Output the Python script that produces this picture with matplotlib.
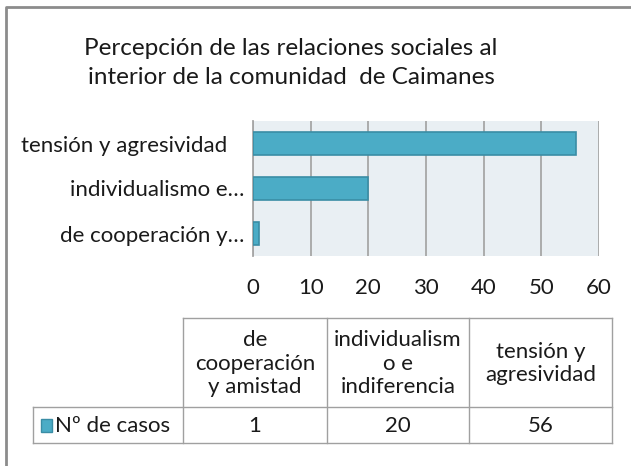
import matplotlib.pyplot as plt
from matplotlib.patches import Rectangle

# data
title = "Percepción de las relaciones sociales al\ninterior de la comunidad  de Caimanes"
categorias = ["de cooperación y…", "individualismo e…", "tensión y agresividad   "]
cabeceras = ["de\ncooperación\ny amistad", "individualism\no e\nindiferencia", "tensión y\nagresividad"]
serie = "Nº de casos"
casos = [1, 20, 56]
xticks = [0, 10, 20, 30, 40, 50, 60]

plt.rcParams['font.family'] = ['Lato', 'DejaVu Sans']
bar_col = '#4BACC6'
edge_col = '#3A8DA5'
grid_col = '#A6A6A6'
txt = '#1a1a1a'
fs = 16
W, H = 631, 466

fig = plt.figure(figsize=(W / 100, H / 100), dpi=100)

# overlay in pixel coords for frame, title and data table
bg = fig.add_axes([0, 0, 1, 1])
bg.set_xlim(0, W)
bg.set_ylim(H, 0)
bg.axis('off')
bg.plot([6, 6, W + 5], [H + 5, 7, 7], color='#8C8C8C', lw=2)
bg.text(291, 63, title, ha='center', va='center', fontsize=17.5, linespacing=1.45, color=txt)

# bar chart
ax = fig.add_axes([253 / W, 1 - 256 / H, 346 / W, 135 / H])
ax.set_facecolor('#E9EFF3')
ax.barh(range(len(casos)), casos, height=0.5, color=bar_col, edgecolor=edge_col, lw=1.2, zorder=3)
ax.set_xlim(0, 60)
ax.set_ylim(-0.5, 2.5)
ax.set_xticks(xticks)
ax.set_xticklabels([str(t) for t in xticks], fontsize=fs, color=txt)
ax.set_yticks(range(len(categorias)))
ax.set_yticklabels(categorias, fontsize=fs, color=txt)
ax.tick_params(length=0, axis='x', pad=16)
ax.tick_params(length=0, axis='y', pad=6)
ax.grid(axis='x', color=grid_col, lw=1.3, zorder=1)
for s in ['top', 'right', 'bottom']:
    ax.spines[s].set_visible(False)
ax.spines['left'].set_color(grid_col)
ax.spines['left'].set_linewidth(1.3)

# data table
cols = [183, 327, 469, 612]
x_leg = 33
y_top, y_mid, y_bot = 318, 407, 443
tc = '#A0A0A0'
bg.plot([cols[0], cols[-1]], [y_top, y_top], color=tc, lw=1)
bg.plot([x_leg, cols[-1]], [y_mid, y_mid], color=tc, lw=1)
bg.plot([x_leg, cols[-1]], [y_bot, y_bot], color=tc, lw=1)
bg.plot([x_leg, x_leg], [y_mid, y_bot], color=tc, lw=1)
for c in cols:
    bg.plot([c, c], [y_top, y_bot], color=tc, lw=1)
for i, (cab, v) in enumerate(zip(cabeceras, casos)):
    xc = (cols[i] + cols[i + 1]) / 2
    bg.text(xc, (y_top + y_mid) / 2 + 1, cab, ha='center', va='center', fontsize=fs,
            linespacing=1.2, color=txt)
    bg.text(xc, (y_mid + y_bot) / 2 + 1, str(v), ha='center', va='center', fontsize=fs, color=txt)
bg.add_patch(Rectangle((41, 419), 11, 13, facecolor=bar_col, edgecolor=edge_col, lw=1))
bg.text(55, (y_mid + y_bot) / 2 + 1, serie, ha='left', va='center', fontsize=fs, color=txt)

fig.savefig('out.png', dpi=100, facecolor='white')
